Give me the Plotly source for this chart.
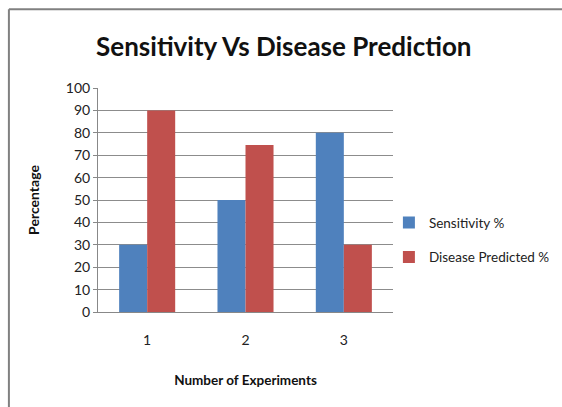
import plotly.graph_objects as go

categories = ["1", "2", "3"]
sensitivity = [30, 50, 80]
disease_predicted = [90, 74.5, 30]
series_names = ["Sensitivity %", "Disease Predicted %"]
y_ticks = [0, 10, 20, 30, 40, 50, 60, 70, 80, 90, 100]

font_family = "Lato, 'Open Sans', sans-serif"

fig = go.Figure()
fig.add_trace(go.Bar(x=categories, y=sensitivity, name=series_names[0],
                     marker=dict(color="#4F81BD", line=dict(width=0)),
                     legendgroup="a"))
fig.add_trace(go.Bar(x=categories, y=disease_predicted, name=series_names[1],
                     marker=dict(color="#C0504D", line=dict(width=0)),
                     legendgroup="b"))

fig.update_layout(
    width=562, height=407,
    margin=dict(l=98, r=169, t=88, b=95, autoexpand=False),
    paper_bgcolor="white", plot_bgcolor="white",
    barmode="group", bargap=0.43, bargroupgap=0,
    font=dict(family=font_family, color="#222"),
    title=dict(text="<b>Sensitivity Vs Disease Prediction</b>",
               x=0.505, xanchor="center", y=0.885, yanchor="middle",
               font=dict(size=26, color="#111", family=font_family)),
    legend=dict(xref="container", yref="container",
                x=0.692, xanchor="left", y=0.41, yanchor="middle",
                font=dict(size=13.5, color="#222"), tracegroupgap=14,
                itemwidth=30, bgcolor="rgba(0,0,0,0)"),
    xaxis=dict(
        showline=True, linecolor="#888", linewidth=1,
        ticks="", tickfont=dict(size=14, color="#222"),
        ticklabelstandoff=15,
        title=dict(text="<b>Number of Experiments</b>", standoff=28,
                   font=dict(size=13.5, color="#111")),
    ),
    yaxis=dict(
        range=[0, 100], tickvals=y_ticks,
        showgrid=True, gridcolor="#8c8c8c", gridwidth=1,
        showline=True, linecolor="#888", linewidth=1,
        ticks="outside", ticklen=4, tickcolor="#888",
        tickfont=dict(size=14, color="#222"),
        zeroline=False,
        title=dict(text="<b>Percentage</b>", standoff=22,
                   font=dict(size=14, color="#111")),
    ),
    shapes=[
        dict(type="line", xref="paper", yref="paper",
             x0=-0.302, x1=1.573, y0=1.352, y1=1.352,
             line=dict(color="#808080", width=2)),
        dict(type="line", xref="paper", yref="paper",
             x0=-0.302, x1=-0.302, y0=1.352, y1=-0.45,
             line=dict(color="#808080", width=2)),
    ],
)

fig.write_html("out.html", config={"displayModeBar": False},
               post_script="document.body.style.margin='0';document.body.style.overflow='hidden';")
